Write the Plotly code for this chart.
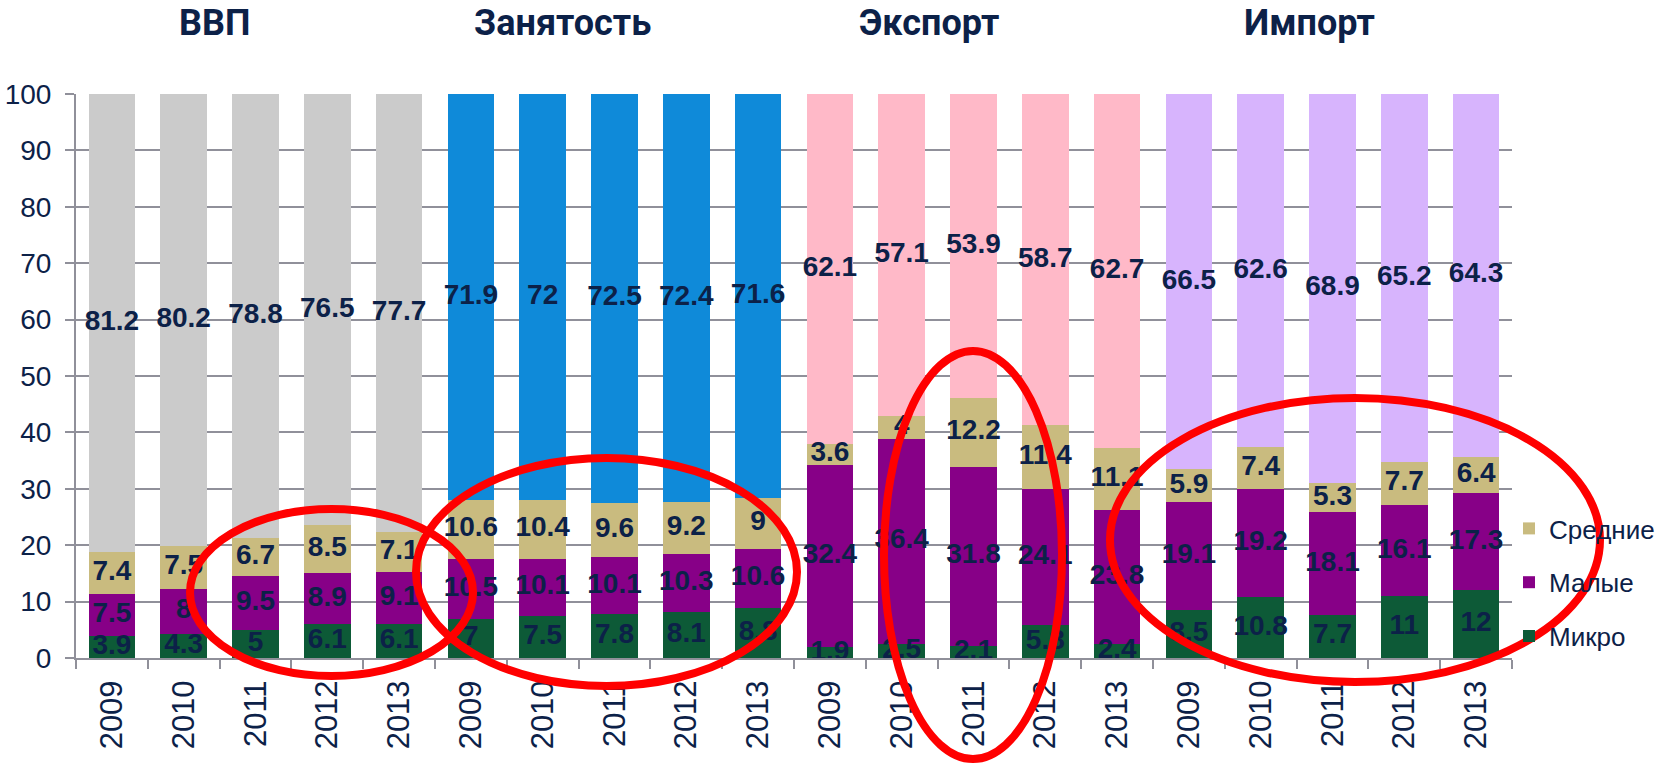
import plotly.graph_objects as go

groups = ["ВВП", "Занятость", "Экспорт", "Импорт"]
years = ["2009", "2010", "2011", "2012", "2013"]

micro = [3.9, 4.3, 5, 6.1, 6.1,
         7, 7.5, 7.8, 8.1, 8.8,
         1.9, 2.5, 2.1, 5.8, 2.4,
         8.5, 10.8, 7.7, 11, 12]
small = [7.5, 8, 9.5, 8.9, 9.1,
         10.5, 10.1, 10.1, 10.3, 10.6,
         32.4, 36.4, 31.8, 24.1, 23.8,
         19.1, 19.2, 18.1, 16.1, 17.3]
medium = [7.4, 7.5, 6.7, 8.5, 7.1,
          10.6, 10.4, 9.6, 9.2, 9,
          3.6, 4, 12.2, 11.4, 11.1,
          5.9, 7.4, 5.3, 7.7, 6.4]
large = [81.2, 80.2, 78.8, 76.5, 77.7,
         71.9, 72, 72.5, 72.4, 71.6,
         62.1, 57.1, 53.9, 58.7, 62.7,
         66.5, 62.6, 68.9, 65.2, 64.3]

group_colors = ["#cbcbcb", "#0f8ad9", "#ffb9c8", "#d7b4fd"]
C_MICRO, C_SMALL, C_MED = "#0d5a37", "#870087", "#c9bb7f"
NAVY = "#0c2148"
GRID = "#90909a"

cats = [f"{g} {y}" for g in groups for y in years]
ticktext = [y for g in groups for y in years]
large_colors = [c for c in group_colors for _ in years]

W, H = 1671, 766
L, R, T, B = 76, 159, 94, 108
PW, PH = W - L - R, H - T - B

def px(x):
    return (x - L) / PW

def py(y):
    return (H - B - y) / PH

fig = go.Figure()
series = [("Микро", micro, C_MICRO, 3), ("Малые", small, C_SMALL, 2), ("Средние", medium, C_MED, 1)]
for name, vals, col, rank in series:
    fig.add_trace(go.Bar(x=cats, y=vals, name=name, marker=dict(color=col, line=dict(width=0)),
                         legendgroup=name, legendrank=rank, hoverinfo="skip"))
fig.add_trace(go.Bar(x=cats, y=large, name="Крупные", marker=dict(color=large_colors, line=dict(width=0)),
                     showlegend=False, hoverinfo="skip"))

# labels at the middle of each segment
lab_x, lab_y, lab_t = [], [], []
for i, c in enumerate(cats):
    base = 0
    for vals in (micro, small, medium, large):
        v = vals[i]
        lab_x.append(c)
        lab_y.append(base + v / 2)
        lab_t.append(f"{v:g}")
        base += v
fig.add_trace(go.Scatter(x=lab_x, y=lab_y, text=lab_t, mode="text", showlegend=False,
                         textfont=dict(family="Liberation Sans, Arial", size=28, color=NAVY, weight="bold"),
                         textposition="middle center", cliponaxis=False, hoverinfo="skip"))

# group titles
title_px = [214, 562, 929, 1309]
for g, x in zip(groups, title_px):
    fig.add_annotation(x=px(x), y=py(23), xref="paper", yref="paper", text=f"<b>{g}</b>",
                       showarrow=False, xanchor="center", yanchor="middle",
                       font=dict(family="Roboto, Liberation Sans", size=36, color=NAVY))

# red hand-drawn highlight ellipses (decoration)
ellipses = [(190, 509, 473, 676), (416, 458, 797, 686), (884, 351, 1062, 759), (1110, 398, 1600, 682)]
for x0, y0, x1, y1 in ellipses:
    fig.add_shape(type="circle", xref="paper", yref="paper", x0=px(x0), x1=px(x1), y0=py(y1), y1=py(y0),
                  line=dict(color="#ff0000", width=8), layer="above")

fig.update_layout(
    width=W, height=H, barmode="stack", bargap=0.35,
    margin=dict(l=L, r=R, t=T, b=B, autoexpand=False),
    paper_bgcolor="white", plot_bgcolor="white",
    showlegend=True,
    legend=dict(x=px(1509), y=py(505), xanchor="left", yanchor="top", traceorder="grouped",
                tracegroupgap=17, font=dict(family="Liberation Sans, Arial", size=26, color=NAVY),
                bgcolor="rgba(0,0,0,0)"),
    xaxis=dict(type="category", categoryorder="array", categoryarray=cats,
               tickvals=cats, ticktext=ticktext, tickangle=-90, tickson="boundaries",
               ticks="outside", ticklen=9, tickwidth=2, tickcolor=GRID,
               showline=True, linecolor=GRID, linewidth=2, showgrid=False,
               tickfont=dict(family="Liberation Sans, Arial", size=31, color=NAVY),
               ticklabelstandoff=8, range=[-0.5, 19.5]),
    yaxis=dict(range=[0, 100], dtick=10, tick0=0, showgrid=True, gridcolor=GRID, gridwidth=2,
               showline=True, linecolor=GRID, linewidth=2, ticks="outside", ticklen=9, tickwidth=2,
               tickcolor=GRID, zeroline=False,
               tickfont=dict(family="Liberation Sans, Arial", size=28, color=NAVY),
               ticklabelstandoff=8),
)

fig.write_html("out.html", config={"displayModeBar": False},
               post_script="document.body.style.margin='0';document.body.style.overflow='hidden';")
